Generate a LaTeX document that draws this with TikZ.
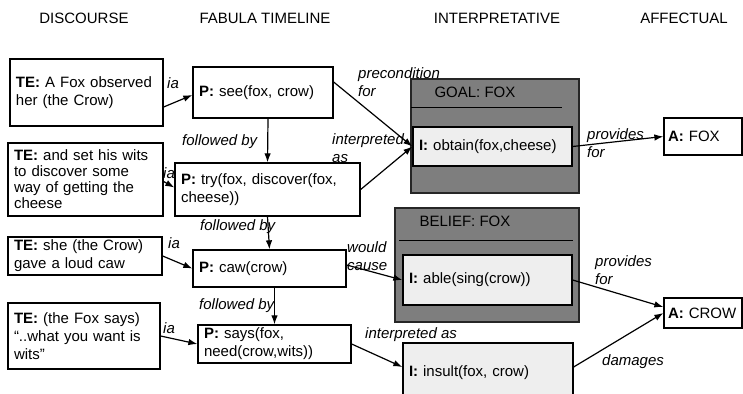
\documentclass[tikz,border=0pt]{standalone}
\usepackage{fontspec}
\setmainfont{Liberation Sans}
\usetikzlibrary{arrows.meta}

\definecolor{groupgray}{RGB}{126,126,126}
\definecolor{innergray}{RGB}{238,238,238}

\tikzset{
  every node/.style={font=\fontsize{15pt}{18pt}\selectfont},
  header/.style={inner sep=0pt},
  txtbox/.style={draw,line width=1.3pt,rectangle,inner xsep=6pt,inner ysep=0pt,align=left},
  ibox/.style={txtbox,fill=innergray},
  abox/.style={txtbox,inner xsep=4pt,text width=70pt},
  groupbox/.style={draw=black!85,fill=groupgray,line width=1.4pt},
  lbl/.style={font=\fontsize{15pt}{18pt}\selectfont\itshape,align=left,inner sep=0pt,anchor=west},
  link/.style={->,line width=1.2pt}
}

\begin{document}
\begin{tikzpicture}[x=1pt,y=1pt,>={Latex[length=9pt,width=6.5pt]}]
    \useasboundingbox (0,0) rectangle (743,-393);

    % column headers
    \node[header] (hdisc) at (84,-18) {DISCOURSE};
    \node[header] (hfab) at (265,-18) {FABULA TIMELINE};
    \node[header] (hint) at (497,-18) {INTERPRETATIVE};
    \node[header] (haff) at (684,-18) {AFFECTUAL};

    % discourse column
    \node[txtbox,text width=141pt,minimum height=67pt] (te1) at (86.5,-92.5) {\textbf{TE:} A Fox observed\\her (the Crow)};
    \node[txtbox,text width=143pt,minimum height=73pt,font=\fontsize{15pt}{16pt}\selectfont] (te2) at (85.5,-179.5) {\textbf{TE:} and set his wits\\to discover some\\way of getting the\\cheese};
    \node[txtbox,text width=142pt,minimum height=38pt] (te3) at (85,-256) {\textbf{TE:} she (the Crow)\\gave a loud caw};
    \node[txtbox,text width=140pt,minimum height=66pt] (te4) at (84,-336) {\textbf{TE:} (the Fox says)\\“..what you want is\\wits”};

    % fabula timeline
    \node[txtbox,text width=128pt,minimum height=51pt] (p1) at (263,-92.5) {\textbf{P:} see(fox, crow)};
    \node[txtbox,text width=173pt,minimum height=53pt] (p2) at (267.5,-189.5) {\textbf{P:} try(fox, discover(fox,\\cheese))};
    \node[txtbox,text width=141pt,minimum height=37pt] (p3) at (269.5,-268.5) {\textbf{P:} caw(crow)};
    \node[txtbox,text width=141pt,minimum height=38pt] (p4) at (274.5,-344) {\textbf{P:} says(fox,\\need(crow,wits))};

    % interpretative
    \node[groupbox,minimum width=168pt,minimum height=114pt] (goal) at (495,-136) {};
    \node[header,anchor=west] (goaltitle) at ([xshift=24pt,yshift=-14pt]goal.north west) {GOAL: FOX};
    \draw[line width=1.3pt] ([xshift=1pt,yshift=-29pt]goal.north west) coordinate (grule) -- ++(151,0);
    \node[ibox,text width=147pt,minimum height=39pt] (i1) at (492.5,-146.5) {\textbf{I:} obtain(fox,cheese)};

    \node[groupbox,minimum width=184pt,minimum height=114pt] (belief) at (487,-265) {};
    \node[header,anchor=west] (belieftitle) at ([xshift=25pt,yshift=-14pt]belief.north west) {BELIEF: FOX};
    \draw[line width=1.3pt] ([xshift=5pt,yshift=-33pt]belief.north west) coordinate (brule) -- ++(174,0);
    \node[ibox,text width=157pt,minimum height=50pt] (i2) at (487.5,-280) {\textbf{I:} able(sing(crow))};

    \node[ibox,text width=158pt,minimum height=60pt] (i3) at (488,-373) {\textbf{I:} insult(fox, crow)};

    % affectual
    \node[abox,minimum height=37pt] (a1) at (703,-136.5) {\textbf{A:} FOX};
    \node[abox,minimum height=30pt] (a2) at (703,-313) {\textbf{A:} CROW};

    % links
    \draw[link] ([yshift=-14.5pt]te1.east) -- ([yshift=-2.5pt]p1.west);
    \draw[link] ([yshift=-2pt]te2.east) -- ([yshift=2pt]p2.west);
    \draw[link] (te3.east) -- (p3.west);
    \draw[link] (te4.east) -- (p4.west);

    \draw[link] ([xshift=5pt]p1.south) -- (p2.north);
    \draw[link] (p2.south) -- (p3.north);
    \draw[link] (p4.north |- p3.south) -- (p4.north);

    \draw[link] ([yshift=10.5pt]p1.east) -- (i1.west);
    \draw[link] (p2.east) -- (i1.west);
    \draw[link] ([yshift=3.5pt]p3.east) -- (i2.west);
    \draw[link] (p4.east) -- ([yshift=6pt]i3.west);

    \draw[link] (i1.east) -- (a1.west);
    \draw[link] (i2.east) -- ([yshift=6pt]a2.west);
    \draw[link] ([yshift=6pt]i3.east) -- (a2.west);

    % link labels
    \node[lbl] (ia1) at (167,-83) {ia};
    \node[lbl] (ia2) at (163,-173) {ia};
    \node[lbl] (ia3) at (168,-243) {ia};
    \node[lbl] (ia4) at (163,-328) {ia};
    \node[lbl] (fb1) at (182,-142) {followed by};
    \node[lbl] (fb2) at (200,-227) {followed by};
    \node[lbl] (fb3) at (199,-306) {followed by};
    \node[lbl] (pre) at (358,-82) {precondition\\for};
    \node[lbl] (intas1) at (332,-148) {interpreted\\as};
    \node[lbl] (prov1) at (587,-143.5) {provides\\for};
    \node[lbl] (would) at (347,-256.5) {would\\cause};
    \node[lbl] (prov2) at (595,-270) {provides\\for};
    \node[lbl] (intas2) at (365,-335) {interpreted as};
    \node[lbl] (dam) at (602,-362) {damages};
\end{tikzpicture}
\end{document}
